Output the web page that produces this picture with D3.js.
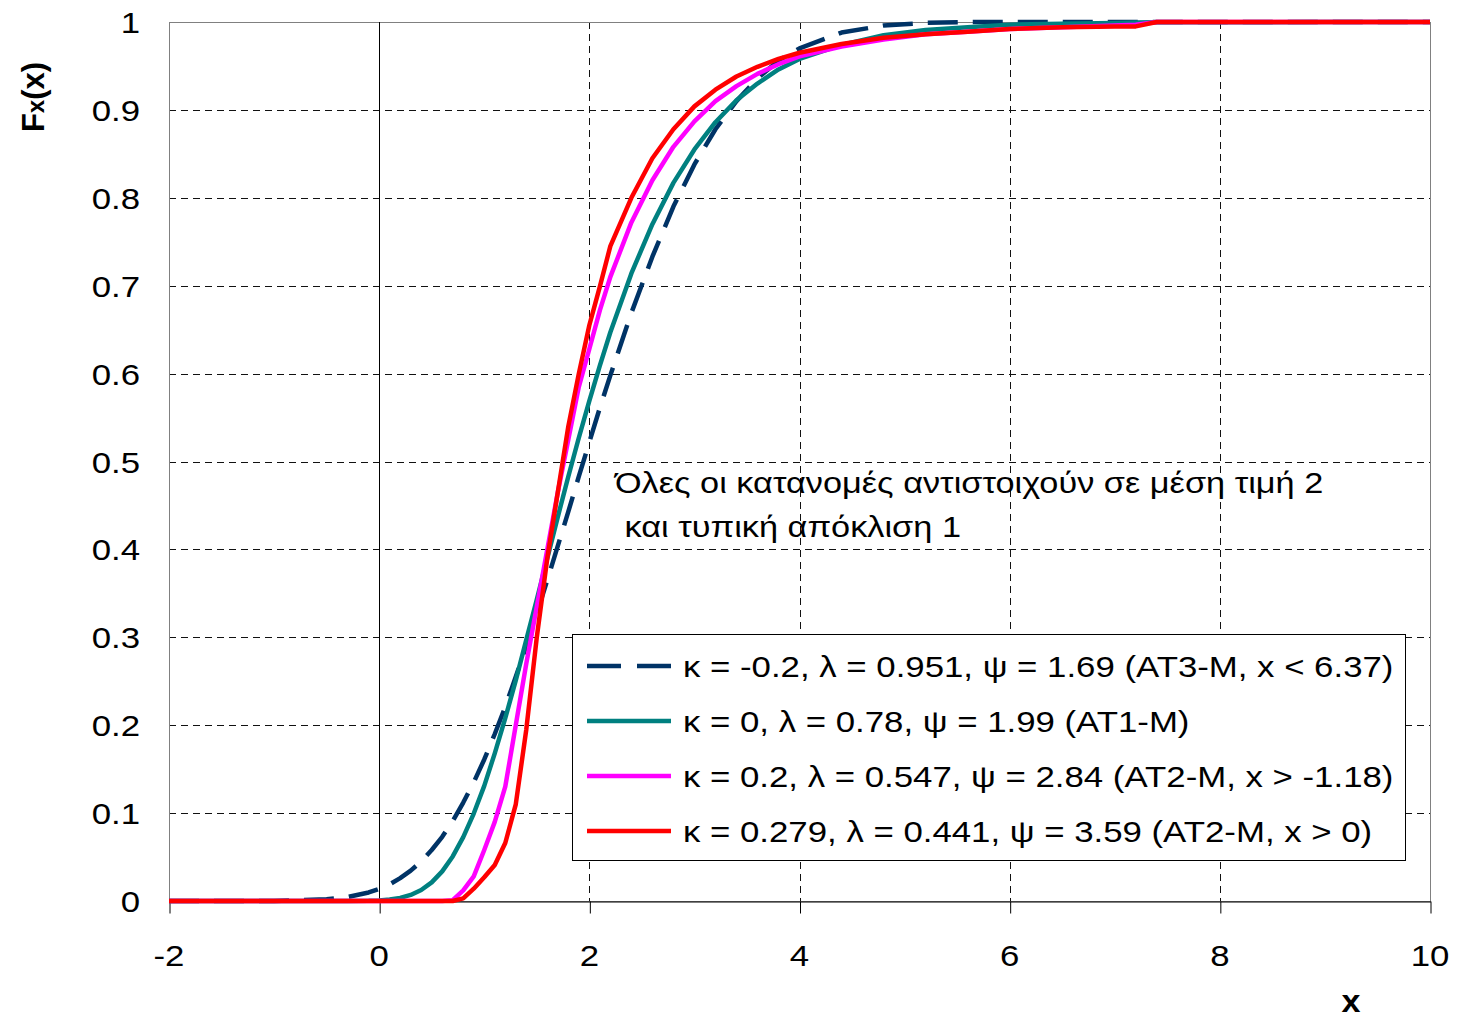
<!DOCTYPE html>
<html>
<head>
<meta charset="utf-8">
<script src="https://cdn.jsdelivr.net/npm/d3@7"></script>
<style>
  body { margin: 0; background: #fff; }
  text { font-family: "Liberation Sans", Arial, sans-serif; }
</style>
</head>
<body>
<svg id="chart" width="1460" height="1020"></svg>
<script>
const xValues = [-2, -1, -0.5, -0.3, -0.1,
  0, 0.1, 0.2, 0.3, 0.4, 0.5, 0.6, 0.7, 0.8, 0.9, 1.0, 1.1, 1.2, 1.3, 1.4, 1.5, 1.6, 1.7, 1.8, 1.9, 2.0, 2.1, 2.2,
  2.4, 2.6, 2.8, 3.0, 3.2, 3.4, 3.6, 3.8, 4.0,
  4.4, 4.8, 5.2, 5.6, 6.0,
  6.5, 7.0, 7.2, 7.4,
  8, 9, 10];

const at3Values = [0, 0.0001, 0.002, 0.0045, 0.0097,
  0.0138, 0.019, 0.026, 0.0345, 0.045, 0.058, 0.073, 0.091, 0.112, 0.135, 0.161, 0.19, 0.221, 0.255, 0.29, 0.327, 0.365, 0.404, 0.443, 0.483, 0.522, 0.561, 0.598,
  0.669, 0.733, 0.79, 0.838, 0.878, 0.91, 0.936, 0.956, 0.97,
  0.988, 0.996, 0.999, 1, 1,
  1, 1, 1, 1,
  1, 1, 1];

const at1Values = [0, 0, 0, 0, 0.0002,
  0.0007, 0.0016, 0.0035, 0.0069, 0.0125, 0.0212, 0.0337, 0.0507, 0.0726, 0.0995, 0.131, 0.168, 0.208, 0.251, 0.297, 0.343, 0.39, 0.437, 0.483, 0.527, 0.569, 0.609, 0.647,
  0.714, 0.77, 0.817, 0.855, 0.886, 0.911, 0.93, 0.946, 0.958,
  0.974, 0.985, 0.991, 0.994, 0.997,
  0.998, 0.999, 0.9994, 0.9996,
  0.9997, 1, 1];

const at2aValues = [0, 0, 0, 0, 0,
  0, 0, 0, 0, 0, 0, 0, 0.001, 0.012, 0.028, 0.058, 0.09, 0.13, 0.2, 0.27, 0.335, 0.4, 0.465, 0.525, 0.585, 0.628, 0.672, 0.71,
  0.772, 0.82, 0.858, 0.887, 0.91, 0.927, 0.941, 0.952, 0.961,
  0.972, 0.98, 0.986, 0.989, 0.992,
  0.994, 0.996, 0.997, 1,
  1, 1, 1];

const at2bValues = [0, 0, 0, 0, 0,
  0, 0, 0, 0, 0, 0, 0, 0, 0.003, 0.014, 0.027, 0.041, 0.066, 0.11, 0.195, 0.3, 0.39, 0.465, 0.54, 0.6, 0.655, 0.699, 0.745,
  0.8, 0.845, 0.878, 0.904, 0.923, 0.938, 0.949, 0.958, 0.965,
  0.975, 0.982, 0.986, 0.989, 0.992,
  0.994, 0.995, 0.995, 1,
  1, 1, 1];

const seriesLabels = [
  "κ = -0.2, λ = 0.951, ψ = 1.69 (AT3-M, x < 6.37)",
  "κ = 0, λ = 0.78, ψ = 1.99 (AT1-M)",
  "κ = 0.2, λ = 0.547, ψ = 2.84 (AT2-M, x > -1.18)",
  "κ = 0.279, λ = 0.441, ψ = 3.59 (AT2-M, x > 0)"
];
const seriesColors = ["#003366", "#008080", "#ff00ff", "#ff0000"];
const seriesDash = ["30,15", null, null, null];

const xTicks = [-2, 0, 2, 4, 6, 8, 10];
const yTicks = [0, 0.1, 0.2, 0.3, 0.4, 0.5, 0.6, 0.7, 0.8, 0.9, 1];
const noteLines = ["Όλες οι κατανομές αντιστοιχούν σε μέση τιμή 2", " και τυπική απόκλιση 1"];

const svg = d3.select("#chart");
const frame = {left: 169, right: 1430, top: 22, bottom: 901};
const stretch = 1.16; // the reference type is a bit wider than Liberation Sans

const x = d3.scaleLinear().domain([-2, 10]).range([frame.left, frame.right]);
const y = d3.scaleLinear().domain([0, 1]).range([frame.bottom, frame.top]);
const px = v => Math.round(v) + 0.5;

function label(g, tx, ty, str, opts) {
  opts = opts || {};
  return g.append("text")
    .attr("transform", `translate(${tx},${ty}) scale(${opts.sx || stretch},1)`)
    .attr("text-anchor", opts.anchor || "start")
    .attr("font-size", opts.size || 30)
    .attr("font-weight", opts.weight || null)
    .attr("fill", "#000")
    .style("white-space", "pre")
    .text(str);
}

// grid
svg.append("g").selectAll("line").data(yTicks.filter(d => d > 0 && d < 1)).join("line")
  .attr("x1", frame.left).attr("x2", frame.right)
  .attr("y1", d => px(y(d))).attr("y2", d => px(y(d)))
  .attr("stroke", "#111").attr("stroke-width", 1).attr("stroke-dasharray", "7,5");
svg.append("g").selectAll("line").data(xTicks.filter(d => d > -2 && d < 10 && d !== 0)).join("line")
  .attr("x1", d => px(x(d))).attr("x2", d => px(x(d)))
  .attr("y1", frame.top).attr("y2", frame.bottom)
  .attr("stroke", "#111").attr("stroke-width", 1).attr("stroke-dasharray", "7,5");

// plot frame
svg.append("rect")
  .attr("x", px(frame.left)).attr("y", px(frame.top))
  .attr("width", frame.right - frame.left).attr("height", frame.bottom - frame.top)
  .attr("fill", "none").attr("stroke", "#808080").attr("stroke-width", 1);

// x axis with ticks below
const xAxis = svg.append("g")
  .attr("transform", `translate(0.5,${px(frame.bottom)})`)
  .call(d3.axisBottom(x).tickValues(xTicks).tickSize(12).tickSizeOuter(0).tickFormat(() => ""));
xAxis.select(".domain").attr("stroke", "#000");
xAxis.selectAll(".tick line").attr("stroke", "#000");
const xLabels = svg.append("g");
xTicks.forEach(t => label(xLabels, x(t), 966, String(t), {anchor: "middle"}));

// y axis line sits at x = 0, labels on the left of the frame
svg.append("line")
  .attr("x1", px(x(0))).attr("x2", px(x(0)))
  .attr("y1", frame.top).attr("y2", frame.bottom)
  .attr("stroke", "#000").attr("stroke-width", 1);
const yLabels = svg.append("g");
yTicks.forEach(t => label(yLabels, 140, y(t) + 11, t === 0 || t === 1 ? String(t) : t.toFixed(1), {anchor: "end"}));

// curves
const line = d3.line().x(d => x(d[0])).y(d => y(d[1]));
const seriesValues = [at3Values, at1Values, at2aValues, at2bValues];
seriesValues.forEach((vals, i) => {
  svg.append("path")
    .datum(xValues.map((xv, j) => [xv, vals[j]]))
    .attr("d", line)
    .attr("fill", "none")
    .attr("stroke", seriesColors[i])
    .attr("stroke-width", 4.5)
    .attr("stroke-linejoin", "round")
    .attr("stroke-dasharray", seriesDash[i]);
});

// note
const note = svg.append("g");
noteLines.forEach((s, i) => label(note, 615, 493 + i * 44, s, {sx: 1.144}));

// legend
const legend = svg.append("g");
legend.append("rect")
  .attr("x", 572.5).attr("y", 634.5).attr("width", 833).attr("height", 226)
  .attr("fill", "#fff").attr("stroke", "#000").attr("stroke-width", 1);
seriesLabels.forEach((lab, i) => {
  const cy = 666 + i * 55;
  legend.append("line")
    .attr("x1", 587).attr("x2", 671).attr("y1", cy).attr("y2", cy)
    .attr("stroke", seriesColors[i]).attr("stroke-width", 4.5)
    .attr("stroke-dasharray", i === 0 ? "34,16" : null);
  label(legend, 683, cy + 11, lab);
});

// axis titles
label(svg, 1351, 1012, "x", {anchor: "middle", size: 31, weight: "bold", sx: 1.1});
const yTitle = svg.append("text")
  .attr("transform", "translate(44,97) rotate(-90)")
  .attr("text-anchor", "middle").attr("font-size", 31).attr("font-weight", "bold");
yTitle.append("tspan").text("F");
yTitle.append("tspan").attr("font-size", 24).text("x");
yTitle.append("tspan").text("(x)");
</script>
</body>
</html>
